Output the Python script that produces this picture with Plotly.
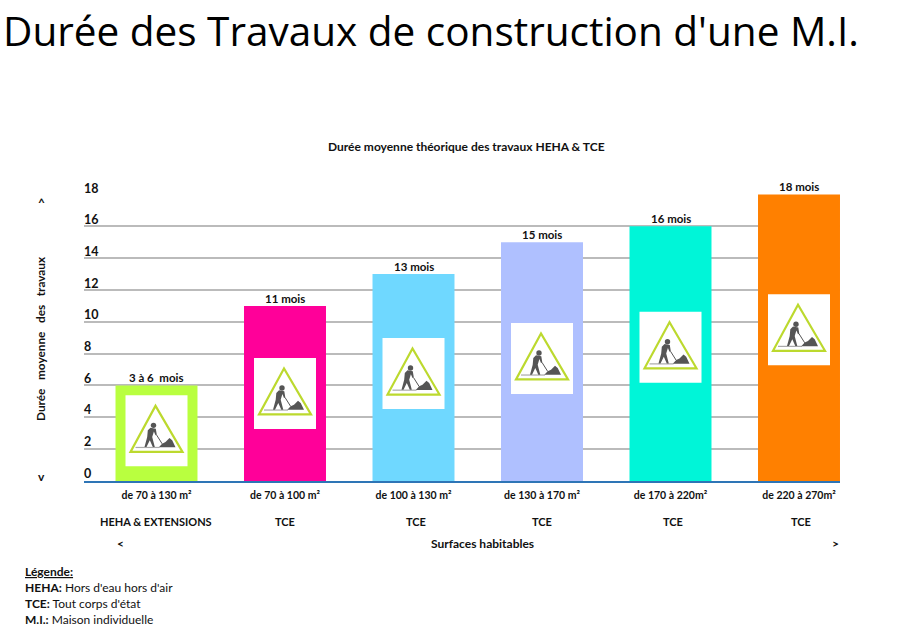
import plotly.graph_objects as go

surfaces = ["de 70 à 130 m²", "de 70 à 100 m²", "de 100 à 130 m²", "de 130 à 170 m²", "de 170 à 220m²", "de 220 à 270m²"]
types = ["HEHA &amp; EXTENSIONS", "TCE", "TCE", "TCE", "TCE", "TCE"]
durations = [6, 11, 13, 15, 16, 18]
bar_labels = ["3 à 6\u00a0\u00a0mois", "11 mois", "13 mois", "15 mois", "16 mois", "18 mois"]
colors = ["#B9FF3F", "#FF0099", "#6FD8FF", "#AFC0FF", "#00F5D8", "#FF8000"]
sign_mid = [3.15, 5.5, 6.75, 7.7, 8.4, 9.5]
y_ticks = [0, 2, 4, 6, 8, 10, 12, 14, 16, 18]

W, H = 900, 631
L, R, T, B = 84, 840, 194, 481
XU = 128.5
YMAX = 18.03
YU = (B - T) / YMAX
FONT = "Lato"
x_idx = list(range(len(durations)))
type_px = [156, 285, 416, 542, 673, 801]

fig = go.Figure(go.Bar(
    x=x_idx, y=durations, width=0.638, marker=dict(color=colors, line=dict(width=0)),
    cliponaxis=False, hoverinfo="skip",
))

shapes, ann = [], []

def path(cx, cy, pts, close=True):
    d = []
    for i, (dx, dy) in enumerate(pts):
        d.append(f"{'M' if i == 0 else 'L'}{cx + dx / XU} {cy - dy / YU}")
    return " ".join(d) + (" Z" if close else "")

def add(d, fill=None, line=None, w=0):
    s = dict(type="path", xref="x", yref="y", path=d, layer="above", line=dict(width=w, color=line or "rgba(0,0,0,0)"))
    if fill:
        s["fillcolor"] = fill
    shapes.append(s)

GR = "#555555"
for cx, cy in zip(x_idx, sign_mid):
    add(path(cx, cy, [(-31, -35.5), (31, -35.5), (31, 35.5), (-31, 35.5)]), fill="#FFFFFF")
    add(path(cx, cy, [(-1, -25), (-26, 21), (26, 21)]), fill="#FFFFFF", line="#BCD92E", w=2.2)
    add(path(cx, cy, [(-21, 16.6), (3, 16.6)], close=False), line="#AAAAAA", w=1.2)
    add(path(cx, cy, [(-6, -3.2), (-0.7, -2.2), (0.3, 4), (-1, 4.5), (-2.6, 0.6), (-4.3, 6.2), (-1.7, 16.2), (-3.7, 16.2),
                      (-6.7, 9.5), (-10, 16.2), (-12, 16.2), (-9.3, 6.2), (-8.7, -0.5)]), fill=GR)
    add(path(cx, cy, [(0, 4), (5.7, 13)], close=False), line=GR, w=1)
    add(path(cx, cy, [(2.3, 16.4), (5.7, 12.8), (9, 11.2), (13, 7.2), (15.7, 9.5), (19, 16.4)]), fill=GR)
    shapes.append(dict(type="circle", xref="x", yref="y", layer="above", fillcolor=GR, line=dict(width=0),
                       x0=cx - 3 / XU - 2.7 / XU, x1=cx - 3 / XU + 2.7 / XU,
                       y0=cy + 5.5 / YU - 2.7 / YU, y1=cy + 5.5 / YU + 2.7 / YU))

def px_text(x, y, text, size=12, anchor="center", color="#111", angle=0, family=FONT):
    ann.append(dict(xref="paper", yref="paper", x=(x - L) / (R - L), y=(B - y) / (B - T), text=text, showarrow=False,
                    xanchor=anchor, yanchor="middle", align="left" if anchor == "left" else "center",
                    textangle=angle, font=dict(family=family, size=size, color=color)))

for i, (v, lab) in enumerate(zip(durations, bar_labels)):
    ann.append(dict(xref="x", yref="y", x=i, y=v, yshift=7.5, text=f"<b>{lab}</b>", showarrow=False, yanchor="middle",
                    xanchor="center", font=dict(family=FONT, size=11.5, color="#111")))
for t in y_ticks:
    px_text(82, 473 - t * 15.83, f"<b>{t}</b>", size=12.5, anchor="left")
for x, t in zip(type_px, types):
    px_text(x, 521, f"<b>{t}</b>", size=11)

px_text(1, 30, "Durée des Travaux de construction d'une M.I.", size=40.5, anchor="left", color="#000", family="Open Sans")
px_text(466, 146, "<b>Durée moyenne théorique des travaux HEHA &amp; TCE</b>", size=12)
px_text(40, 339, "<b>Durée\u00a0\u00a0\u00a0moyenne\u00a0\u00a0\u00a0des\u00a0\u00a0\u00a0travaux</b>", size=11.8, angle=-90)
px_text(41, 202, "<b>^</b>", size=12)
px_text(41, 476, "<b>v</b>", size=12)
px_text(120, 543, "<b>&lt;</b>", size=12)
px_text(835, 543, "<b>&gt;</b>", size=12)
px_text(482, 543, "<b>Surfaces habitables</b>", size=12)
px_text(23, 571, "<b><u>Légende:</u></b>", size=12, anchor="left")
px_text(23, 587.5, "<b>HEHA:</b> Hors d'eau hors d'air", size=12, anchor="left")
px_text(23, 603.5, "<b>TCE:</b> Tout corps d'état", size=12, anchor="left")
px_text(23, 619, "<b>M.I.:</b> Maison individuelle", size=12, anchor="left")

fig.update_layout(
    width=W, height=H, autosize=False, showlegend=False, paper_bgcolor="white", plot_bgcolor="white",
    margin=dict(l=L, r=W - R, t=T, b=H - B), shapes=shapes, annotations=ann,
    xaxis=dict(range=[(L - 156.5) / XU, (R - 156.5) / XU], tickmode="array", tickvals=x_idx,
               ticktext=[f"<b>{s}</b>" for s in surfaces], tickfont=dict(family=FONT, size=10.5, color="#111"),
               ticks="", showgrid=False, zeroline=False, showline=True, linecolor="#2E75B6", linewidth=1.5, ticklabelstandoff=4),
    yaxis=dict(range=[0, YMAX], tickvals=y_ticks, showticklabels=False, ticks="", showgrid=True,
               gridcolor="#BBBBBB", gridwidth=1.5, zeroline=False, showline=False),
)
fig.write_html("out.html", config={"displayModeBar": False},
               post_script="document.body.style.margin='0';document.documentElement.style.overflow='hidden';")
